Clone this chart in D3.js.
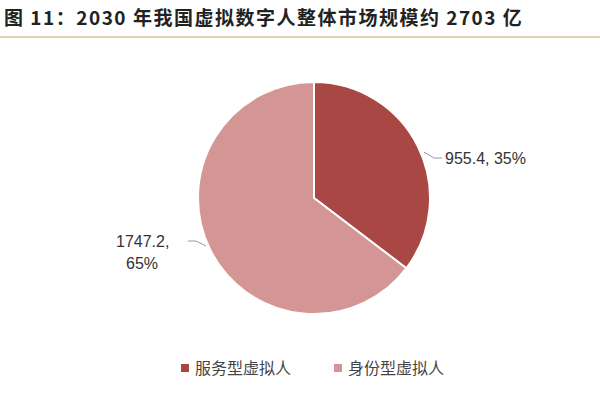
<!DOCTYPE html>
<html><head><meta charset="utf-8">
<script src="https://cdn.jsdelivr.net/npm/d3@7"></script>
<style>body{margin:0;background:#fff}</style>
</head><body>
<svg id="chart" width="600" height="400"></svg>
<script>
const categories = ["服务型虚拟人", "身份型虚拟人"];
const values = [955.4, 1747.2];
const pctLabels = ["35%", "65%"];
const colors = ["#A94744", "#D49694"];

const svg = d3.select("#chart");
const font = "'Noto Sans CJK SC', sans-serif";

svg.append("text").attr("x", 4).attr("y", 25)
  .attr("font-family", font).attr("font-size", 19).attr("font-weight", "bold").attr("fill", "#222")
  .attr("letter-spacing", 1.5)
  .text("图 11：2030 年我国虚拟数字人整体市场规模约 2703 亿");
svg.append("line").attr("x1", 0).attr("x2", 600).attr("y1", 37).attr("y2", 37)
  .attr("stroke", "#C9A465").attr("stroke-width", 1.2);

const cx = 314, cy = 198, r = 116;
const pie = d3.pie().sort(null)(values);
const arc = d3.arc().innerRadius(0).outerRadius(r);
const g = svg.append("g").attr("transform", `translate(${cx},${cy})`);
g.selectAll("path").data(pie).join("path")
  .attr("d", arc).attr("fill", (d, i) => colors[i])
  .attr("stroke", "#fff").attr("stroke-width", 2);

// leader lines + labels
const lab = svg.append("g").attr("font-family", "'Liberation Sans', Arial, sans-serif").attr("font-size", 16).attr("fill", "#333");
svg.append("polyline").attr("points", "424,152 434,158 442,158").attr("fill", "none").attr("stroke", "#999");
lab.append("text").attr("x", 445).attr("y", 164).text(values[0] + ", " + pctLabels[0]);
svg.append("polyline").attr("points", "206,246 196,241 188,241").attr("fill", "none").attr("stroke", "#999");
lab.append("text").attr("x", 116).attr("y", 247).text(values[1] + ",");
lab.append("text").attr("x", 126).attr("y", 269).text(pctLabels[1]);

// legend
const lg = svg.append("g").attr("font-family", font).attr("font-size", 16).attr("fill", "#444");
const lx = [181, 334];
categories.forEach((c, i) => {
  lg.append("rect").attr("x", lx[i]).attr("y", 364).attr("width", 8).attr("height", 8).attr("fill", colors[i]);
  lg.append("text").attr("x", lx[i] + 14).attr("y", 374).text(c);
});
</script>
</body></html>
